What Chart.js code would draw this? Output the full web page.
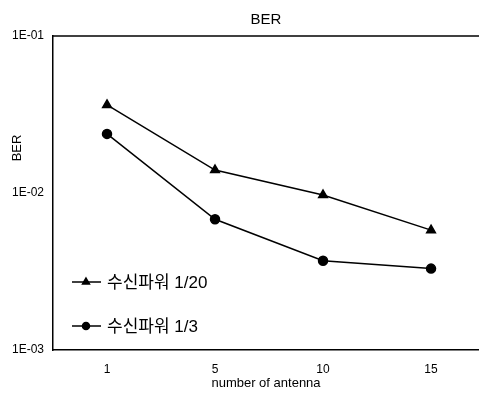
<!DOCTYPE html>
<html>
<head>
<meta charset="utf-8">
<script src="https://cdn.jsdelivr.net/npm/chart.js@4.4.1/dist/chart.umd.min.js"></script>
<style>
  html, body { margin: 0; padding: 0; background: #fff; }
</style>
</head>
<body>
<canvas id="berChart" width="479" height="399"></canvas>
<script>
// valeurs
const categories = ['1', '5', '10', '15'];
const yTicks = [0.001, 0.01, 0.1];
const yTickLabels = ['1E-03', '1E-02', '1E-01'];
const labelLow = '수신파워 1/20';
const labelHigh = '수신파워 1/3';
const berLow = [0.0364, 0.0140, 0.0097, 0.0058];
const berHigh = [0.0238, 0.0068, 0.0037, 0.0033];

const latin = "'Liberation Sans', Arial, sans-serif";

// titre, titre Y, cadre du haut et légende dans la zone de tracé
const decor = {
  id: 'decor',
  afterDraw(chart) {
    const ctx = chart.ctx;
    const a = chart.chartArea;
    ctx.save();
    ctx.strokeStyle = '#000';
    ctx.fillStyle = '#000';
    ctx.lineWidth = 1.5;
    ctx.beginPath();
    ctx.moveTo(a.left, a.top);
    ctx.lineTo(a.right, a.top);
    ctx.stroke();

    ctx.textAlign = 'center';
    ctx.textBaseline = 'middle';
    ctx.font = '15px ' + latin;
    ctx.fillText('BER', (a.left + a.right) / 2, 20);

    ctx.save();
    ctx.translate(17, 148);
    ctx.rotate(-Math.PI / 2);
    ctx.font = '13px ' + latin;
    ctx.fillText('BER', 0, 0);
    ctx.restore();

    // légende
    const items = [
      { ds: chart.data.datasets[0], y: 282, r: 4 },
      { ds: chart.data.datasets[1], y: 326, r: 3.5 }
    ];
    ctx.font = "17px 'Liberation Sans', 'Noto Sans CJK KR', sans-serif";
    ctx.textAlign = 'left';
    items.forEach(it => {
      ctx.lineWidth = 1.5;
      ctx.beginPath();
      ctx.moveTo(72, it.y);
      ctx.lineTo(101, it.y);
      ctx.stroke();
      Chart.helpers.drawPoint(ctx, {
        pointStyle: it.ds.pointStyle,
        radius: it.r,
        rotation: 0,
        borderWidth: 1
      }, 86, it.y);
      ctx.fillText(it.ds.label, 107, it.y + 1);
    });
    ctx.restore();
  }
};

const ctx = document.getElementById('berChart');
new Chart(ctx, {
  type: 'line',
  data: {
    datasets: [{
      label: labelLow,
      data: berLow.map((v, i) => ({ x: i, y: v })),
      borderColor: '#000',
      backgroundColor: '#000',
      borderWidth: 1.5,
      pointStyle: 'triangle',
      pointRadius: 5,
      pointBackgroundColor: '#000',
      pointBorderColor: '#000',
      tension: 0
    }, {
      label: labelHigh,
      data: berHigh.map((v, i) => ({ x: i, y: v })),
      borderColor: '#000',
      backgroundColor: '#000',
      borderWidth: 1.5,
      pointStyle: 'circle',
      pointRadius: 4.5,
      pointBackgroundColor: '#000',
      pointBorderColor: '#000',
      tension: 0
    }]
  },
  options: {
    responsive: false,
    animation: false,
    layout: { autoPadding: false, padding: { top: 36, left: 0, right: 0, bottom: 0 } },
    plugins: {
      legend: { display: false },
      title: { display: false },
      tooltip: { enabled: false }
    },
    scales: {
      x: {
        type: 'linear',
        min: -0.5,
        max: 3.444,
        grid: { display: false, drawTicks: false },
        border: { color: '#000', width: 1.5 },
        afterBuildTicks: s => { s.ticks = categories.map((c, i) => ({ value: i })); },
        afterFit: s => { s.height = 49; s.paddingLeft = 0; s.paddingRight = 0; },
        ticks: {
          padding: 12,
          color: '#000',
          font: { family: latin, size: 12 },
          callback: (v, i) => categories[i]
        },
        title: {
          display: true,
          text: 'number of antenna',
          color: '#000',
          font: { family: latin, size: 13 },
          padding: { top: 0, bottom: 8 }
        }
      },
      y: {
        type: 'logarithmic',
        min: 0.001,
        max: 0.1,
        grid: { display: false, drawTicks: false },
        border: { color: '#000', width: 1.5 },
        afterBuildTicks: s => { s.ticks = yTicks.map(v => ({ value: v })); },
        afterFit: s => { s.width = 53; },
        ticks: {
          padding: 9,
          color: '#000',
          font: { family: latin, size: 12 },
          callback: (v, i) => yTickLabels[i]
        }
      }
    }
  },
  plugins: [decor]
});
</script>
</body>
</html>
